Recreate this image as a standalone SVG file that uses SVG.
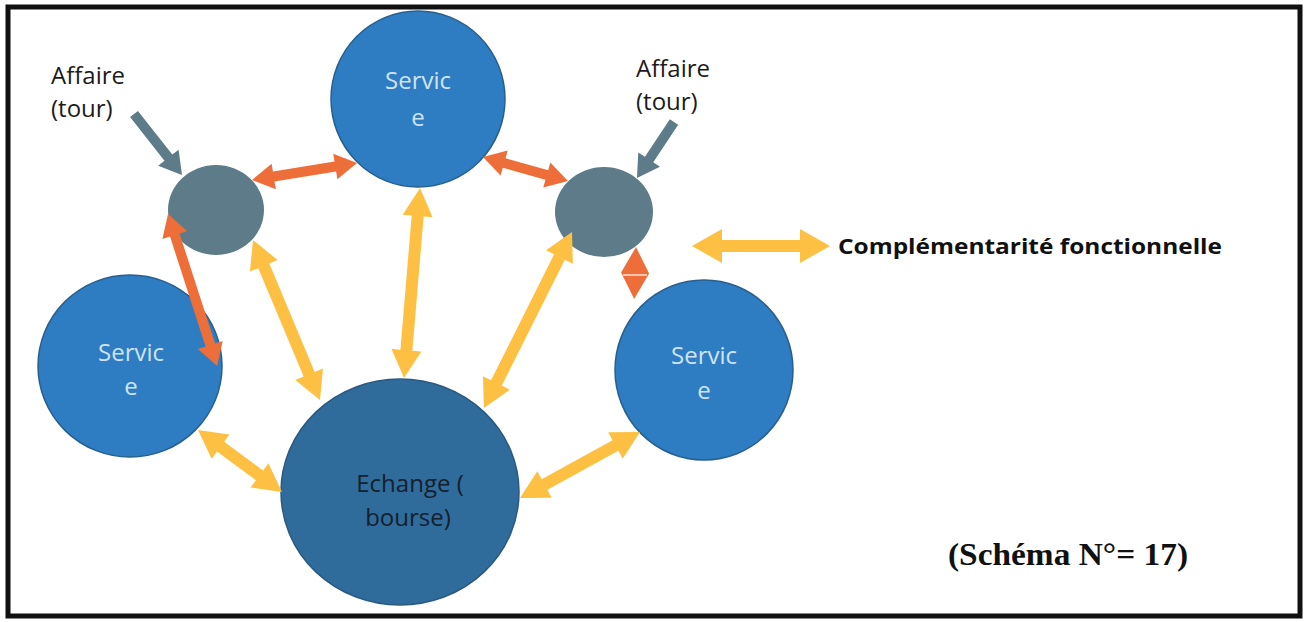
<svg xmlns="http://www.w3.org/2000/svg" width="1308" height="622" viewBox="0 0 1308 622">
<style>
.svc{fill:#2E7DC2;stroke:#275F8E;stroke-width:1.5}
.tour{fill:#5E7B89}
.ech{fill:#2F6C9C;stroke:#2A5A82;stroke-width:1.5}
.lbl{font-family:"Open Sans","Liberation Sans",Arial,sans-serif;font-size:24px;fill:#1b1b1b}
.wt{font-family:"Open Sans","Liberation Sans",Arial,sans-serif;font-size:24px;fill:#CFE3F5;text-anchor:middle}
.dk{font-family:"Open Sans","Liberation Sans",Arial,sans-serif;font-size:24px;fill:#14202c;text-anchor:middle}
.or{fill:#EE6E3A}
.ye{fill:#FDC043}
.gr{fill:#5E7B89}
</style>
<rect x="0" y="0" width="1308" height="622" fill="#ffffff"/>

<g id="echange">
<ellipse class="ech" cx="400" cy="492" rx="119" ry="113"/>
<text class="dk" x="410" y="492">Echange (</text>
<text class="dk" x="408" y="526">bourse)</text>
</g>
<g id="service-top">
<ellipse class="svc" cx="418" cy="99" rx="87" ry="88"/>
<text class="wt" x="418" y="89">Servic</text>
<text class="wt" x="418" y="126">e</text>
</g>
<g id="service-left">
<ellipse class="svc" cx="130" cy="366" rx="92" ry="91"/>
<text class="wt" x="131" y="361">Servic</text>
<text class="wt" x="131" y="395">e</text>
</g>
<g id="service-right">
<ellipse class="svc" cx="704" cy="370" rx="89" ry="90"/>
<text class="wt" x="704" y="364">Servic</text>
<text class="wt" x="704" y="399">e</text>
</g>
<g id="tour-left">
<ellipse class="tour" cx="216" cy="210" rx="48" ry="45"/>
</g>
<g id="tour-right">
<ellipse class="tour" cx="604" cy="212" rx="49" ry="45"/>
</g>
<g id="label-affaire-left">
<text class="lbl" x="51" y="84">Affaire</text>
<text class="lbl" x="51" y="117">(tour)</text>
</g>
<g id="label-affaire-right">
<text class="lbl" x="636" y="77">Affaire</text>
<text class="lbl" x="636" y="110">(tour)</text>
</g>

<g id="connectors">
<polygon class="gr" transform="translate(134,114) rotate(51.8)" points="0,-5 55.6,-5 55.6,-13 77.6,0 55.6,13 55.6,5 0,5"/>
<polygon class="gr" transform="translate(674,122) rotate(123.5)" points="0,-5 45.1,-5 45.1,-13 67.1,0 45.1,13 45.1,5 0,5"/>
<polygon class="or" transform="translate(252,180) rotate(-9.2)" points="0,0 22,-13 22,-5 84.4,-5 84.4,-13 106.4,0 84.4,13 84.4,5 22,5 22,13"/>
<polygon class="or" transform="translate(483,157) rotate(15.8)" points="0,0 22,-13 22,-5 66.3,-5 66.3,-13 88.3,0 66.3,13 66.3,5 22,5 22,13"/>
<polygon class="or" transform="translate(168,214) rotate(72.1)" points="0,0 22,-13 22,-5 137.7,-5 137.7,-13 159.7,0 137.7,13 137.7,5 22,5 22,13"/>
<polygon class="or" transform="translate(636,247) rotate(92)" points="0,0 26,-14 52,0 26,14"/>
<line x1="623" y1="275" x2="647" y2="275" stroke="#fbe3d6" stroke-width="1.5"/>
<polygon class="ye" transform="translate(253,240) rotate(67.3)" points="0,0 28,-15 28,-6 145.5,-6 145.5,-15 173.5,0 145.5,15 145.5,6 28,6 28,15"/>
<polygon class="ye" transform="translate(420,188) rotate(94.8)" points="0,0 28,-15 28,-6 162.7,-6 162.7,-15 190.7,0 162.7,15 162.7,6 28,6 28,15"/>
<polygon class="ye" transform="translate(572,232) rotate(116.6)" points="0,0 28,-15 28,-6 168.8,-6 168.8,-15 196.8,0 168.8,15 168.8,6 28,6 28,15"/>
<polygon class="ye" transform="translate(198,430) rotate(36.4)" points="0,0 28,-15 28,-6 76.4,-6 76.4,-15 104.4,0 76.4,15 76.4,6 28,6 28,15"/>
<polygon class="ye" transform="translate(640,432) rotate(151.2)" points="0,0 28,-15 28,-6 109,-6 109,-15 137,0 109,15 109,6 28,6 28,15"/>
</g>

<g id="legend">
<polygon class="ye" transform="translate(692,246)" points="0,0 30,-17 30,-6 108,-6 108,-17 138,0 108,17 108,6 30,6 30,17"/>
<text x="838" y="254" font-family="Open Sans,Liberation Sans,Arial,sans-serif" font-weight="bold" font-size="22" fill="#111" textLength="384" lengthAdjust="spacingAndGlyphs">Complémentarité fonctionnelle</text>
</g>

<g id="caption">
<text x="948" y="565" font-family="Liberation Serif,Times New Roman,serif" font-weight="bold" font-size="31" fill="#111" textLength="240" lengthAdjust="spacingAndGlyphs">(Schéma N°= 17)</text>
</g>

<rect x="8" y="7" width="1292" height="609" fill="none" stroke="#111" stroke-width="5"/>
</svg>
